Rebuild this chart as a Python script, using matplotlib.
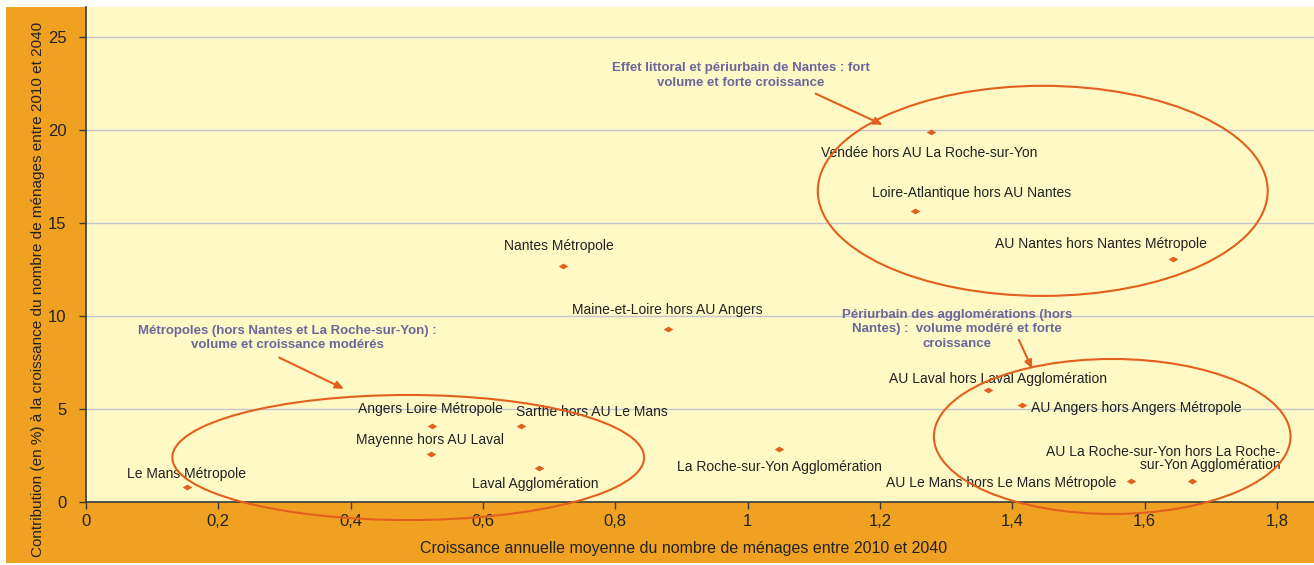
import matplotlib
matplotlib.use("Agg")
import matplotlib.pyplot as plt
from matplotlib.patches import Ellipse, Rectangle
from matplotlib.path import Path
from matplotlib import font_manager

names = {f.name for f in font_manager.fontManager.ttflist}
FAM = ['Liberation Sans Narrow', 'DejaVu Sans'] if 'Liberation Sans Narrow' in names else ['Liberation Sans', 'DejaVu Sans']
plt.rcParams['font.family'] = FAM

# ---- data ----
labels = [
    "Le Mans Métropole", "Angers Loire Métropole", "Mayenne hors AU Laval",
    "Sarthe hors AU Le Mans", "Laval Agglomération", "Nantes Métropole",
    "Maine-et-Loire hors AU Angers", "La Roche-sur-Yon Agglomération",
    "Vendée hors AU La Roche-sur-Yon", "Loire-Atlantique hors AU Nantes",
    "AU Nantes hors Nantes Métropole", "AU Laval hors Laval Agglomération",
    "AU Angers hors Angers Métropole",
    "AU La Roche-sur-Yon hors La Roche-\nsur-Yon Agglomération",
    "AU Le Mans hors Le Mans Métropole",
]
growth = [0.152, 0.523, 0.521, 0.657, 0.684, 0.721, 0.879, 1.048,
          1.277, 1.253, 1.643, 1.363, 1.414, 1.671, 1.579]
contrib = [0.80, 4.07, 2.57, 4.06, 1.83, 12.69, 9.28, 2.84,
           19.9, 15.65, 13.06, 6.02, 5.20, 1.15, 1.11]

xticks = [0, 0.2, 0.4, 0.6, 0.8, 1.0, 1.2, 1.4, 1.6, 1.8]
xticklabels = ["0", "0,2", "0,4", "0,6", "0,8", "1", "1,2", "1,4", "1,6", "1,8"]
yticks = [0, 5, 10, 15, 20, 25]

# label placement (offset pixels, ha)
label_pos = [
    ((0, 13), 'center'), ((-2, 17), 'center'), ((-1, 14), 'center'),
    ((-5, 14), 'left'), ((-3, -16), 'center'), ((-4, 20), 'center'),
    ((0, 19), 'center'), ((0, -18), 'center'), ((-2, -21), 'center'),
    ((57, 18), 'center'), ((-72, 15), 'center'), ((10, 11), 'center'),
    ((9, -3), 'left'), ((89, 22), 'right'), ((-14, -2), 'right'),
]

ORANGE_BG = '#F0A122'
PLOT_BG = '#FFF9C6'
MARK = '#E2601E'
PURPLE = '#6B669B'

W, H = 1314, 565
fig = plt.figure(figsize=(W/100, H/100), dpi=100, facecolor='white')
fig.patches.append(Rectangle((6/W, 2/H), 1 - 6/W, (H - 9)/H, transform=fig.transFigure,
                             facecolor=ORANGE_BG, edgecolor='none', zorder=-10))
ax = fig.add_axes([86/W, 1 - 502/H, 1 - 86/W, (502 - 7)/H])
ax.set_facecolor(PLOT_BG)
ax.set_xlim(0, 1.856)
ax.set_ylim(0, 26.6)

for s in ['top', 'right']:
    ax.spines[s].set_visible(False)
for s in ['left', 'bottom']:
    ax.spines[s].set_color('#3a3a3a')
    ax.spines[s].set_linewidth(1.2)

ax.set_xticks(xticks)
ax.set_xticklabels(xticklabels)
ax.set_yticks(yticks)
ax.tick_params(axis='both', direction='out', length=5, width=1, color='#3a3a3a',
               labelsize=12, labelcolor='#222222')
ax.tick_params(axis='x', pad=4)
ax.tick_params(axis='y', pad=9)
ax.yaxis.grid(True, color='#C4C4CE', linewidth=1)
ax.set_axisbelow(True)

ax.set_xlabel("Croissance annuelle moyenne du nombre de ménages entre 2010 et 2040",
              fontsize=11.5, color='#222222')
ax.xaxis.set_label_coords((684 - 86) / 1228, -(541 - 502) / 495)
ax.set_ylabel("Contribution (en %) à la croissance du nombre de ménages entre 2010 et 2040",
              fontsize=11, color='#222222')
ax.yaxis.set_label_coords((45 - 86) / 1228, (502 - 289) / 495)

diamond = Path([(-1, 0), (0, 0.6), (1, 0), (0, -0.6), (-1, 0)],
               [Path.MOVETO, Path.LINETO, Path.LINETO, Path.LINETO, Path.CLOSEPOLY])
ax.scatter(growth, contrib, marker=diamond, s=48, color=MARK, zorder=3, linewidths=0)

for lab, x, y, ((dx, dy), ha) in zip(labels, growth, contrib, label_pos):
    ax.annotate(lab, (x, y), xytext=(dx, dy), textcoords='offset pixels',
                ha=ha, va='center', multialignment=ha, fontsize=10, color='#222222',
                linespacing=0.95, zorder=4)

# ellipses
ells = [((0.487, 2.39), 0.713, 6.72), ((1.446, 16.72), 0.680, 11.29), ((1.551, 3.52), 0.539, 8.33)]
for (cx, cy), w, h in ells:
    ax.add_patch(Ellipse((cx, cy), w, h, fill=False, edgecolor=MARK, linewidth=1.5,
                         clip_on=False, zorder=5))

# group annotations
groups = [
    ("Métropoles (hors Nantes et La Roche-sur-Yon) :\nvolume et croissance modérés",
     (0.305, 8.82), (0.292, 7.76), (0.390, 6.08)),
    ("Effet littoral et périurbain de Nantes : fort\nvolume et forte croissance",
     (0.990, 22.93), (1.103, 21.94), (1.204, 20.27)),
    ("Périurbain des agglomérations (hors\nNantes) :  volume modéré et forte\ncroissance",
     (1.316, 9.27), (1.410, 8.71), (1.430, 7.15)),
]
for txt, tpos, tail, tip in groups:
    ax.text(tpos[0], tpos[1], txt, ha='center', va='center', fontsize=9.5,
            fontweight='bold', color=PURPLE, linespacing=1.3, zorder=6)
    ax.annotate('', xy=tip, xytext=tail,
                arrowprops=dict(arrowstyle='-|>,head_length=0.5,head_width=0.22',
                                color=MARK, lw=1.5, shrinkA=0, shrinkB=0), zorder=6)

fig.savefig('out.png', dpi=100, facecolor=fig.get_facecolor())
